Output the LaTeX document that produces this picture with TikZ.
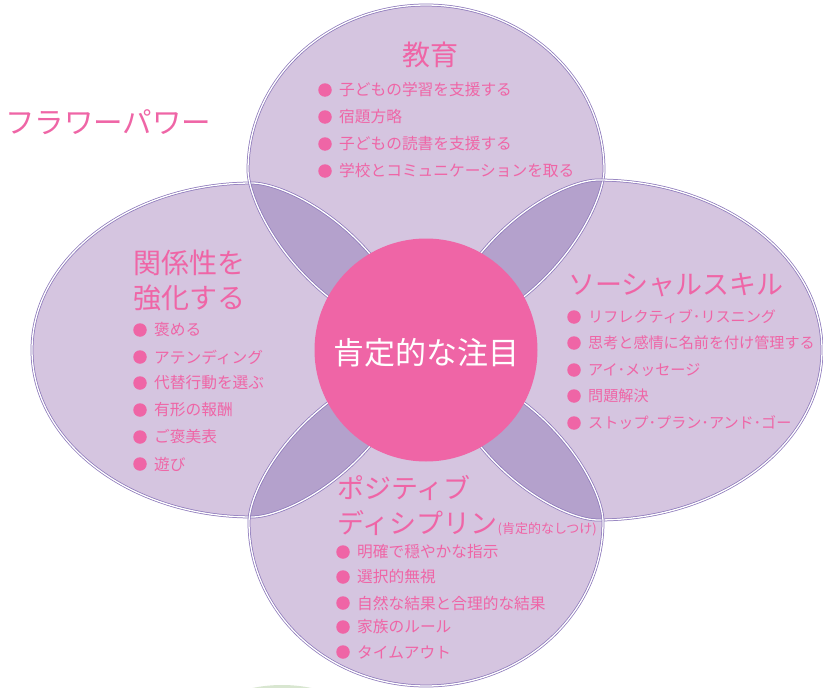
\documentclass[tikz,border=0pt]{standalone}
\usepackage{fontspec}
\newfontfamily\jp{Noto Sans CJK JP}
\definecolor{petal}{RGB}{213,197,224}
\definecolor{lensc}{RGB}{180,161,204}
\definecolor{edge}{RGB}{140,120,186}
\definecolor{pinkc}{RGB}{239,101,166}
\definecolor{blobg}{RGB}{216,230,208}
\newcommand\petalpath[3]{(#1,#3) .. controls ({#1+0.5523*(#2-#1)},#3) and (#2,{0.5523*#3}) .. (#2,0) .. controls (#2,{-0.5523*#3}) and ({#1+0.5523*(#2-#1)},-#3) .. (#1,-#3) .. controls ({#1-32},-#3) and (60,{-0.76*#3}) .. (20,{-0.24*#3}) -- (20,{0.24*#3}) .. controls (60,{0.76*#3}) and ({#1-32},#3) .. (#1,#3) -- cycle}
\newcommand\PL{\petalpath{174}{394}{167}}
\newcommand\PT{\petalpath{180}{345}{178}}
\newcommand\PR{\petalpath{172}{396}{170}}
\newcommand\PB{\petalpath{172}{336}{177}}
\tikzset{
 leftT/.style={shift={(426,350)},x={(-1pt,0pt)},y={(0pt,1pt)}},
 rightT/.style={shift={(426,350)},x={(1pt,0pt)},y={(0pt,1pt)}},
 topT/.style={shift={(426,350)},x={(0pt,1pt)},y={(1pt,0pt)}},
 botT/.style={shift={(426,350)},x={(0pt,-1pt)},y={(1pt,0pt)}},
 petaledge/.style={draw=edge,line width=0.75pt,double=white,double distance=1.3pt},
 bul/.style={circle,fill=pinkc,inner sep=0pt,minimum size=13.5pt},
 itemtext/.style={anchor=west,text=pinkc,font=\jp\fontsize{15.7}{18}\selectfont,inner sep=0pt},
 smallitem/.style={itemtext,font=\jp\fontsize{15.1}{18}\selectfont},
 headtext/.style={text=pinkc,font=\jp\fontsize{28}{33}\selectfont,inner sep=0pt},
}
\newcommand\bitem[5][itemtext]{\node[bul] (#2b) at (#3,#4) {}; \node[#1] (#2) at ({#3+14},#4) {#5};}
\begin{document}
\begin{tikzpicture}[x=1pt,y=-1pt]
\useasboundingbox (0,0) rectangle (823,688);
\clip (0,0) rectangle (823,688);
\fill[white] (0,0) rectangle (823,688);
% green blob peeking at bottom
\fill[blobg] (282,740) ellipse [x radius=90, y radius=55];
% petals
\fill[petal,leftT] \PL;
\fill[petal,topT] \PT;
\fill[petal,rightT] \PR;
\fill[petal,botT] \PB;
% overlaps
\begin{scope}\clip[leftT] \PL; \fill[lensc,topT] \PT;\end{scope}
\begin{scope}\clip[rightT] \PR; \fill[lensc,topT] \PT;\end{scope}
\begin{scope}\clip[leftT] \PL; \fill[lensc,botT] \PB;\end{scope}
\begin{scope}\clip[rightT] \PR; \fill[lensc,botT] \PB;\end{scope}
% outlines
\draw[petaledge,leftT] \PL;
\draw[petaledge,topT] \PT;
\draw[petaledge,rightT] \PR;
\draw[petaledge,botT] \PB;
% centre
\node[circle,fill=pinkc,minimum size=223pt,inner sep=0pt] (ctr) at (426,350) {};
\node[text=white,font=\jp\fontsize{31}{36}\selectfont,inner sep=0pt] (ctrtext) at (426,353) {肯定的な注目};
% title
\node[headtext,anchor=west,font=\jp\fontsize{29.5}{34}\selectfont] (title) at (5,122) {フラワーパワー};
% top petal
\node[headtext] (edu) at (430,55) {教育};
\bitem{t1}{325}{90}{子どもの学習を支援する}
\bitem{t2}{325}{117}{宿題方略}
\bitem{t3}{325}{144}{子どもの読書を支援する}
\bitem{t4}{325}{171}{学校とコミュニケーションを取る}
% left petal
\node[headtext,anchor=west] (rel1) at (133,263) {関係性を};
\node[headtext,anchor=west] (rel2) at (133,298) {強化する};
\bitem{l1}{140}{330}{褒める}
\bitem{l2}{140}{357}{アテンディング}
\bitem{l3}{140}{383}{代替行動を選ぶ}
\bitem{l4}{140}{410}{有形の報酬}
\bitem{l5}{140}{437}{ご褒美表}
\bitem{l6}{140}{464}{遊び}
% right petal
\node[headtext,anchor=west,font=\jp\fontsize{27}{32}\selectfont] (soc) at (568,285) {ソーシャルスキル};
\bitem[smallitem]{r1}{574}{317}{リフレクティブ･リスニング}
\bitem[smallitem]{r2}{574}{343}{思考と感情に名前を付け管理する}
\bitem[smallitem]{r3}{574}{370}{アイ･メッセージ}
\bitem[smallitem]{r4}{574}{396}{問題解決}
\bitem[smallitem]{r5}{574}{423}{ストップ･プラン･アンド･ゴー}
% bottom petal
\node[headtext,anchor=west,font=\jp\fontsize{27}{32}\selectfont] (pos1) at (337,488) {ポジティブ};
\node[headtext,anchor=west,font=\jp\fontsize{27}{32}\selectfont] (pos2) at (337,523) {ディシプリン};
\node[text=pinkc,font=\jp\fontsize{13}{15}\selectfont,inner sep=0pt,anchor=base west] (pos3) at (pos2.base east) {(肯定的なしつけ)};
\bitem{b1}{343}{552}{明確で穏やかな指示}
\bitem{b2}{343}{577}{選択的無視}
\bitem{b3}{343}{603}{自然な結果と合理的な結果}
\bitem{b4}{343}{627}{家族のルール}
\bitem{b5}{343}{652}{タイムアウト}
\end{tikzpicture}
\end{document}
